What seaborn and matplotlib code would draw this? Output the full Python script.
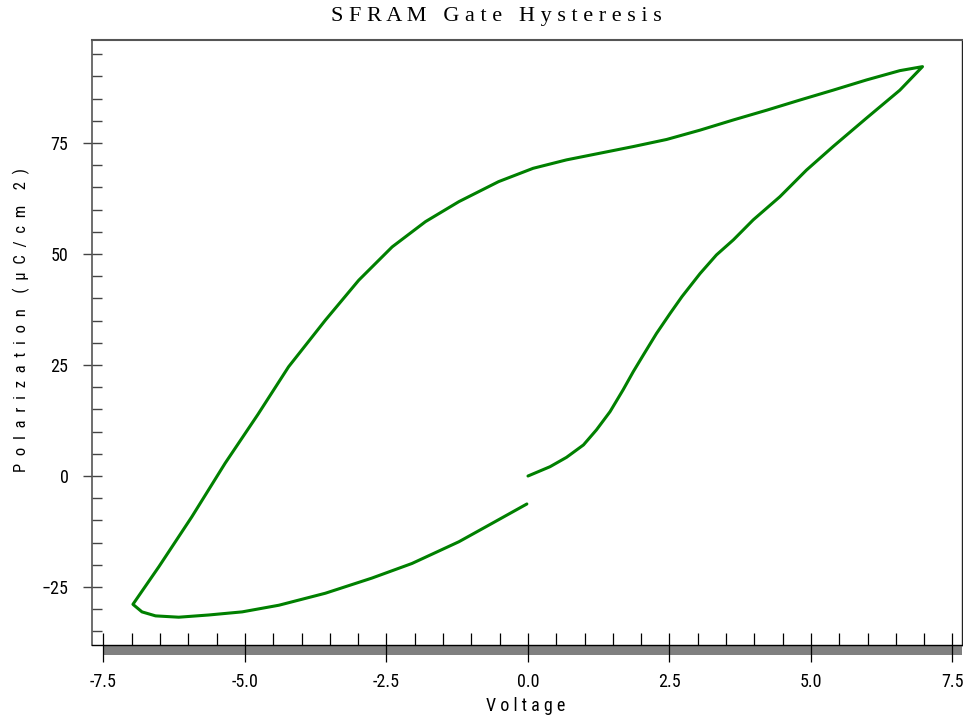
import matplotlib
matplotlib.use("Agg")
import numpy as np
import pandas as pd
import matplotlib.pyplot as plt
import seaborn as sns
from matplotlib import font_manager
from matplotlib.patches import Rectangle
from matplotlib.ticker import MultipleLocator, FormatStrFormatter

# ---------------- data ----------------
voltage = [
    # rising branch from the origin up to the positive tip
    0.00, 0.39, 0.68, 0.98, 1.21, 1.45, 1.68, 1.86, 2.04, 2.27, 2.51, 2.72,
    3.04, 3.33, 3.63, 3.98, 4.45, 4.92, 5.39, 5.98, 6.57, 6.97,
    # upper branch back to the negative tip
    6.57, 5.98, 5.39, 4.81, 4.22, 3.63, 3.04, 2.45, 1.86, 1.27, 0.68, 0.09,
    -0.52, -1.22, -1.81, -2.40, -2.99, -3.58, -4.23, -4.77, -5.35, -5.94,
    -6.52, -6.98,
    # lower branch back toward zero
    -6.82, -6.58, -6.17, -5.64, -5.05, -4.40, -3.58, -2.76, -2.05, -1.22,
    -0.64, -0.02,
]
polarization = [
    0.0, 2.1, 4.2, 7.0, 10.4, 14.5, 19.4, 23.5, 27.3, 32.1, 36.6, 40.4,
    45.6, 49.8, 53.2, 57.7, 62.9, 68.9, 74.2, 80.6, 86.9, 92.2,
    91.3, 89.2, 86.9, 84.7, 82.4, 80.2, 77.9, 75.8, 74.2, 72.7, 71.2, 69.3,
    66.3, 61.8, 57.3, 51.6, 44.1, 35.1, 24.6, 13.9, 2.9, -9.2,
    -20.4, -28.9,
    -30.6, -31.5, -31.8, -31.3, -30.6, -29.1, -26.4, -23.0, -19.7, -14.8,
    -10.7, -6.3,
]
x_major_ticks = [-7.5, -5.0, -2.5, 0.0, 2.5, 5.0, 7.5]
y_major_ticks = [-25, 0, 25, 50, 75]
title_text = "S F R A M   G a t e   H y s t e r e s i s"
x_label = "V o l t a g e"
y_label = "P  o  l  a  r  i  z  a  t  i  o  n    (  µ  C  /  c  m    2  )"

df = pd.DataFrame({"Voltage": voltage, "Polarization": polarization})

# ---------------- style ----------------
sns.set_theme(style="white")
names = {f.name for f in font_manager.fontManager.ttflist}
sans = next((n for n in ["Liberation Sans Narrow", "Roboto Condensed",
                         "Liberation Sans"] if n in names), "DejaVu Sans")
serif = next((n for n in ["Liberation Serif", "DejaVu Serif"] if n in names),
             "DejaVu Serif")
plt.rcParams["font.family"] = [sans, "DejaVu Sans"]

fig = plt.figure(figsize=(9.63, 7.17), dpi=100)
ax = fig.add_axes([92 / 963, 1 - 645 / 717, 870 / 963, 605 / 717])

sns.lineplot(data=df, x="Voltage", y="Polarization", sort=False,
             estimator=None, color="#008000", linewidth=2.2, ax=ax)
ax.lines[0].set_solid_joinstyle("round")

ax.set_xlim(-7.703, 7.668)
ax.set_ylim(-38.06, 98.2)

# ticks
ax.set_xticks(x_major_ticks)
ax.xaxis.set_major_formatter(FormatStrFormatter("%.1f"))
ax.xaxis.set_minor_locator(MultipleLocator(0.5))
ax.xaxis.remove_overlapping_locs = False
ax.set_yticks(y_major_ticks)
ax.yaxis.set_minor_locator(MultipleLocator(5))
ax.yaxis.remove_overlapping_locs = False

ax.tick_params(axis="x", which="major", direction="out", length=12.2,
               width=0.9, color="black", pad=8, labelsize=13,
               labelcolor="black", bottom=True, top=False)
ax.tick_params(axis="x", which="minor", direction="in", length=8.6,
               width=0.9, color="black", bottom=True, top=False)
ax.tick_params(axis="y", which="major", direction="out", length=6.5,
               width=1.0, color="#444444", pad=10.5, labelsize=13,
               labelcolor="black", left=True, right=False)
ax.tick_params(axis="y", which="minor", direction="in", length=7.2,
               width=1.0, color="#444444", left=True, right=False)

for side, col, lw in [("left", "#555555", 1.2), ("top", "#555555", 1.5),
                      ("right", "#222222", 1.0), ("bottom", "black", 1.0)]:
    ax.spines[side].set_visible(True)
    ax.spines[side].set_color(col)
    ax.spines[side].set_linewidth(lw)

# gray axis bar under the plot
ax.add_patch(Rectangle((-7.5, -10 / 605), 7.668 + 7.5, 10 / 605,
                       transform=ax.get_xaxis_transform(), clip_on=False,
                       facecolor="#808080", edgecolor="none", zorder=0.5))

# labels
ax.set_xlabel(x_label, fontsize=13, color="black")
ax.xaxis.set_label_coords(0.499, -0.101)
ax.xaxis.label.set_va("center")
ax.set_ylabel(y_label, fontsize=12, color="black")
ax.yaxis.set_label_coords(-0.0815, 0.538)
ax.yaxis.label.set_va("center")

ax.set_title(title_text, family=[serif, "DejaVu Serif"], fontsize=16,
             color="black", x=(496 - 92) / 870, pad=13.5)

fig.savefig("out.png", dpi=100)
